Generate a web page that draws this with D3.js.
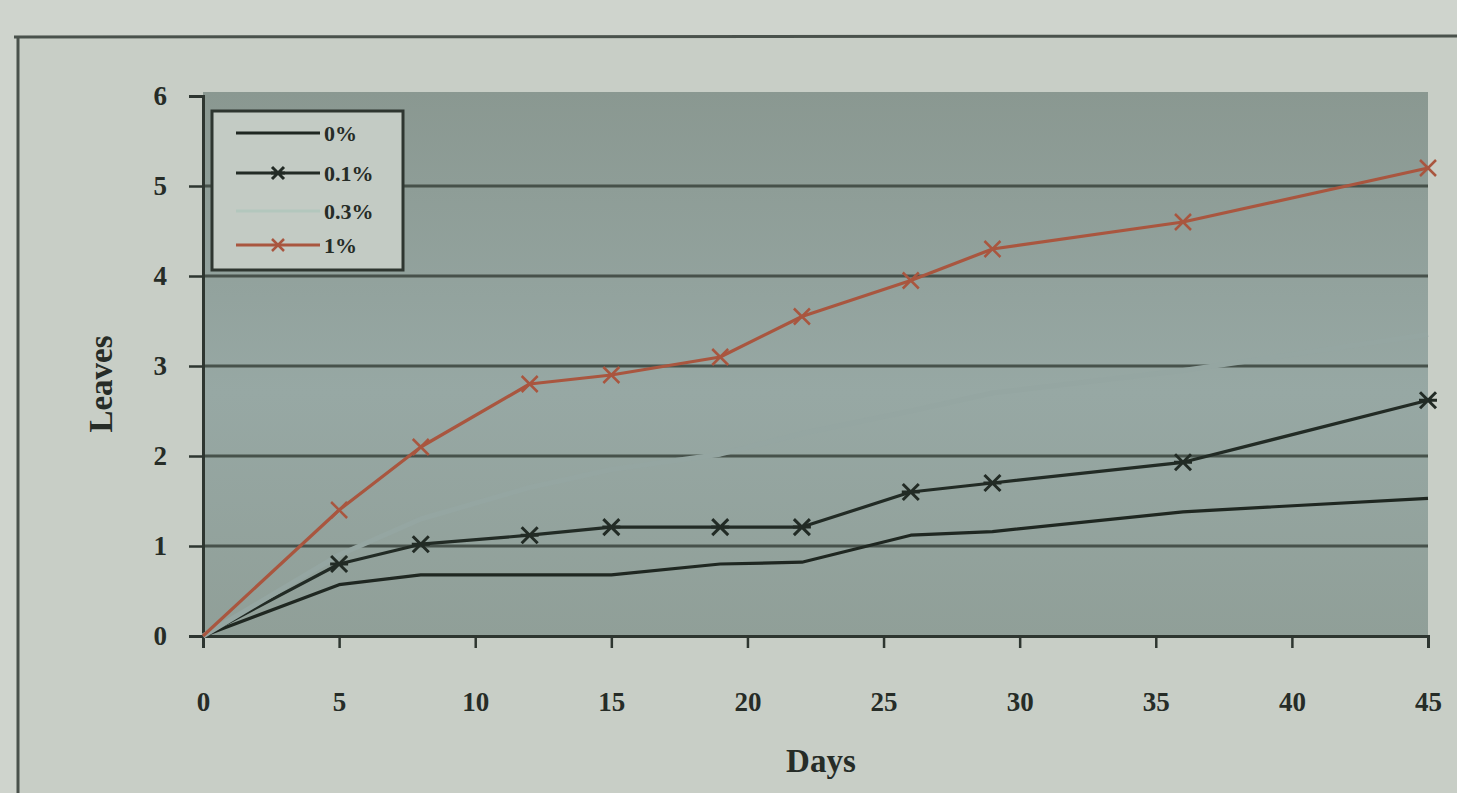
<!DOCTYPE html>
<html>
<head>
<meta charset="utf-8">
<script src="https://cdn.jsdelivr.net/npm/d3@7"></script>
<style>
  html, body { margin: 0; padding: 0; background: #cfd4cd; }
  svg { display: block; }
</style>
</head>
<body>
<svg id="chart" width="1457" height="793"></svg>
<script>
// Leaf count over time for four treatment concentrations
const days = [0, 5, 8, 12, 15, 19, 22, 26, 29, 36, 45];
const seriesNames = ["0%", "0.1%", "0.3%", "1%"];
const leaves0 = [0, 0.57, 0.68, 0.68, 0.68, 0.8, 0.82, 1.12, 1.16, 1.38, 1.53];
const leaves01 = [0, 0.8, 1.02, 1.12, 1.21, 1.21, 1.21, 1.6, 1.7, 1.93, 2.62];
const leaves03 = [0, 0.9, 1.3, 1.65, 1.85, 2.02, 2.25, 2.5, 2.7, 2.95, 3.35];
const leaves1 = [0, 1.4, 2.1, 2.8, 2.9, 3.1, 3.55, 3.95, 4.3, 4.6, 5.2];
const xTicks = [0, 5, 10, 15, 20, 25, 30, 35, 40, 45];
const yTicks = [0, 1, 2, 3, 4, 5, 6];

const series = [
  { name: seriesNames[0], values: leaves0, color: "#1f2721", legendColor: "#1f2721", marker: null, width: 3.2 },
  { name: seriesNames[1], values: leaves01, color: "#222b25", legendColor: "#222b25", marker: "star", width: 3.2 },
  // pale series: drawn in a tone that sits almost flush with the plot fill
  { name: seriesNames[2], values: leaves03, color: "#95a6a2", legendColor: "#b3c7bd", marker: null, width: 5 },
  { name: seriesNames[3], values: leaves1, color: "#a9563f", legendColor: "#a9563f", marker: "cross", width: 3.2 }
];

const svg = d3.select("#chart");
const W = 1457, H = 793;
const plot = { left: 203, right: 1428, top: 96, bottom: 636 };

const x = d3.scaleLinear().domain([0, 45]).range([plot.left, plot.right]);
const y = d3.scaleLinear().domain([0, 6]).range([plot.bottom, plot.top]);

const serif = "'Liberation Serif', 'DejaVu Serif', serif";

// page and chart frame
svg.append("rect").attr("width", W).attr("height", H).attr("fill", "#cfd4cd");
svg.append("rect").attr("x", 18).attr("y", 37).attr("width", W).attr("height", H)
  .attr("fill", "#c8cec6");
svg.append("line").attr("x1", 14).attr("x2", W).attr("y1", 37).attr("y2", 36)
  .attr("stroke", "#4a524c").attr("stroke-width", 3);
svg.append("line").attr("x1", 18).attr("x2", 18).attr("y1", 37).attr("y2", H)
  .attr("stroke", "#4a524c").attr("stroke-width", 3);

// plot area background
const grad = svg.append("defs").append("linearGradient")
  .attr("id", "plotbg").attr("x1", 0).attr("y1", 0).attr("x2", 0).attr("y2", 1);
grad.append("stop").attr("offset", "0%").attr("stop-color", "#8a9891");
grad.append("stop").attr("offset", "55%").attr("stop-color", "#97a8a4");
grad.append("stop").attr("offset", "100%").attr("stop-color", "#909f98");
svg.append("rect")
  .attr("x", plot.left).attr("y", plot.top - 4)
  .attr("width", plot.right - plot.left).attr("height", plot.bottom - plot.top + 6)
  .attr("fill", "url(#plotbg)");

// horizontal gridlines
svg.append("g")
  .selectAll("line")
  .data(yTicks.filter(d => d > 0 && d < 6))
  .join("line")
  .attr("x1", plot.left).attr("x2", plot.right)
  .attr("y1", d => y(d)).attr("y2", d => y(d))
  .attr("stroke", "#3a443d").attr("stroke-width", 3).attr("opacity", 0.85);

// axes
const yAxis = d3.axisLeft(y).tickValues(yTicks).tickSize(14).tickPadding(22).tickFormat(d3.format("d"));
const gy = svg.append("g").attr("transform", `translate(${plot.left},0)`).call(yAxis);
const xAxis = d3.axisBottom(x).tickValues(xTicks).tickSize(12).tickPadding(44).tickFormat(d3.format("d"));
const gx = svg.append("g").attr("transform", `translate(0,${plot.bottom})`).call(xAxis);

[gx, gy].forEach(g => {
  g.select(".domain").attr("stroke", "#2e3630").attr("stroke-width", 3);
  g.selectAll(".tick line").attr("stroke", "#2e3630").attr("stroke-width", 2.5);
  g.selectAll(".tick text")
    .attr("font-family", serif).attr("font-weight", "bold")
    .attr("font-size", 27).attr("fill", "#262c27");
});

// axis titles
svg.append("text")
  .attr("x", x(22.7)).attr("y", 772)
  .attr("text-anchor", "middle")
  .attr("font-family", serif).attr("font-weight", "bold").attr("font-size", 33)
  .attr("fill", "#262c27").text("Days");
svg.append("text")
  .attr("transform", `translate(112,${y(2.8)}) rotate(-90)`)
  .attr("text-anchor", "middle")
  .attr("font-family", serif).attr("font-weight", "bold").attr("font-size", 33)
  .attr("fill", "#262c27").text("Leaves");

// series lines
const line = d3.line().x((d, i) => x(days[i])).y(d => y(d));
const gLines = svg.append("g");
series.forEach(s => {
  gLines.append("path")
    .datum(s.values)
    .attr("d", line)
    .attr("fill", "none")
    .attr("stroke", s.color)
    .attr("stroke-width", s.width)
    .attr("stroke-linejoin", "round");
});

// markers
function drawMarker(g, type, cx, cy, color, size) {
  const r = size;
  if (type === "star") {
    g.append("path")
      .attr("d", `M${cx - r},${cy - r}L${cx + r},${cy + r}M${cx - r},${cy + r}L${cx + r},${cy - r}M${cx - r - 1},${cy}L${cx + r + 1},${cy}`)
      .attr("stroke", color).attr("stroke-width", 3).attr("fill", "none");
  } else if (type === "cross") {
    g.append("path")
      .attr("d", `M${cx - r},${cy - r}L${cx + r},${cy + r}M${cx - r},${cy + r}L${cx + r},${cy - r}`)
      .attr("stroke", color).attr("stroke-width", 2.5).attr("fill", "none");
  }
}
const gMarks = svg.append("g");
series.filter(s => s.marker).forEach(s => {
  s.values.forEach((v, i) => {
    if (i === 0) return;
    drawMarker(gMarks, s.marker, x(days[i]), y(v), s.color, 8);
  });
});

// legend
const lg = svg.append("g").attr("transform", "translate(212,111)");
lg.append("rect").attr("width", 191).attr("height", 159)
  .attr("fill", "#c3cbc4").attr("stroke", "#2e3630").attr("stroke-width", 3);
const rowY = [22, 62, 100, 134];
series.forEach((s, i) => {
  const row = lg.append("g").attr("transform", `translate(0,${rowY[i]})`);
  row.append("line").attr("x1", 24).attr("x2", 108).attr("y1", 0).attr("y2", 0)
    .attr("stroke", s.legendColor).attr("stroke-width", 3.2);
  if (s.marker) drawMarker(row, s.marker, 66, 0, s.legendColor, 6);
  row.append("text")
    .attr("x", 112).attr("y", 8)
    .attr("font-family", serif).attr("font-weight", "bold").attr("font-size", 22)
    .attr("fill", "#262c27").text(s.name);
});
</script>
</body>
</html>
